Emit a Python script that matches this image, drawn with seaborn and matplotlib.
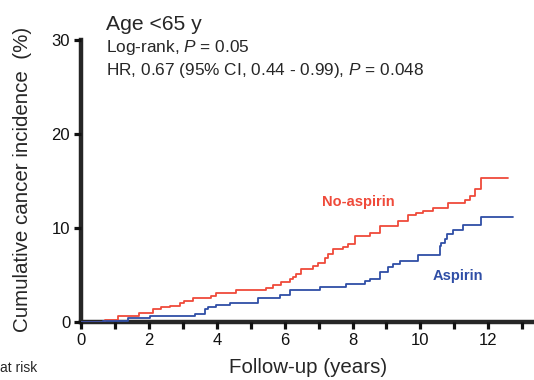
import pandas as pd
import numpy as np
import matplotlib
matplotlib.use("Agg")
import matplotlib.pyplot as plt
import seaborn as sns

# Step times (years) and cumulative incidence (%)
no_aspirin_t = [0, 0.69, 1.08, 1.69, 2.11, 2.36, 2.61, 2.90, 3.03, 3.29, 3.83, 3.98,
                4.57, 5.46, 5.65, 5.90, 6.15, 6.24, 6.34, 6.49, 6.83, 6.98, 7.18,
                7.28, 7.42, 7.72, 7.87, 8.06, 8.51, 8.80, 9.34, 9.64, 9.88, 10.08,
                10.37, 10.82, 11.31, 11.46, 11.60, 11.78, 12.59]
no_aspirin_y = [0, 0.14, 0.57, 0.88, 1.34, 1.59, 1.70, 1.98, 2.23, 2.51, 2.76, 3.07,
                3.36, 3.57, 3.92, 4.17, 4.49, 4.77, 5.05, 5.65, 5.94, 6.29, 6.75,
                7.17, 7.70, 7.95, 8.30, 9.12, 9.47, 10.18, 10.71, 11.31, 11.52, 11.77,
                12.12, 12.65, 12.90, 13.36, 14.06, 15.30, 15.30]

aspirin_t = [0, 0.64, 1.38, 2.02, 3.34, 3.64, 3.74, 3.98, 4.38, 5.21, 5.85, 6.15,
             7.03, 7.82, 8.36, 8.51, 8.80, 9.05, 9.19, 9.39, 9.93, 10.57, 10.62,
             10.72, 10.80, 10.96, 11.26, 11.80, 12.73]
aspirin_y = [0, 0.07, 0.35, 0.57, 0.81, 1.34, 1.52, 1.77, 1.98, 2.51, 2.83, 3.39,
             3.71, 3.99, 4.35, 4.52, 5.30, 5.83, 6.11, 6.47, 7.10, 8.06, 8.41,
             8.76, 9.29, 9.72, 10.25, 11.17, 11.17]

groups = ["No-aspirin", "Aspirin"]
colors = {"No-aspirin": "#EF4A3A", "Aspirin": "#2F4EA6"}

df = pd.concat([
    pd.DataFrame({"time": no_aspirin_t, "inc": no_aspirin_y, "group": "No-aspirin"}),
    pd.DataFrame({"time": aspirin_t, "inc": aspirin_y, "group": "Aspirin"}),
])

sns.set_style("ticks")
plt.rcParams["font.family"] = ["Liberation Sans", "DejaVu Sans"]
plt.rcParams["mathtext.fontset"] = "custom"
plt.rcParams["mathtext.rm"] = "Liberation Sans"
plt.rcParams["mathtext.it"] = "Liberation Sans:italic"

W, H = 534, 380
fig = plt.figure(figsize=(W / 100, H / 100), dpi=100)
ax = fig.add_axes([81.3 / W, (H - 321.7) / H, (W - 81.3) / W, (321.7 - 39.5) / H])

sns.lineplot(data=df, x="time", y="inc", hue="group", hue_order=groups,
             palette=colors, estimator=None, drawstyle="steps-post",
             linewidth=1.3, legend=False, ax=ax, zorder=1)

ax.set_xlim(0, (W - 81.3) / 33.9)
ax.set_ylim(0, 30)
ax.set_xticks(range(0, 14))
ax.set_xticklabels([str(i) if i % 2 == 0 else "" for i in range(0, 14)])
ax.set_yticks([0, 10, 20, 30])
ax.set_xlabel("")
ax.set_ylabel("")
for s in ["top", "right"]:
    ax.spines[s].set_visible(False)
for s in ["left", "bottom"]:
    ax.spines[s].set_linewidth(3.2)
    ax.spines[s].set_zorder(0)
ax.tick_params(axis="both", width=2.3, length=5, labelsize=12, colors="#111111", pad=3)

# curve labels
ax.text(8.16, 12.75, "No-aspirin", color=colors["No-aspirin"], fontsize=10.5,
        fontweight="bold", ha="center", va="center")
ax.text(11.1, 4.9, "Aspirin", color=colors["Aspirin"], fontsize=10.5,
        fontweight="bold", ha="center", va="center")

# header text
fig.text(106.5 / W, 1 - 30 / H, "Age <65 y", fontsize=15.2, va="baseline")
fig.text(106.5 / W, 1 - 51.7 / H, "Log-rank, $P$ = 0.05", fontsize=12.4, va="baseline")
fig.text(106.5 / W, 1 - 75 / H, "HR, 0.67 (95% CI, 0.44 - 0.99), $P$ = 0.048",
         fontsize=12.4, va="baseline")

fig.text(23 / W, 1 - 179 / H, "Cumulative cancer incidence  (%)", fontsize=14.8,
         rotation=90, ha="center", va="center")
fig.text(308 / W, 1 - 373 / H, "Follow-up (years)", fontsize=14.8, ha="center",
         va="baseline")
fig.text(37.5 / W, 1 - 375 / H, "at risk", fontsize=10, ha="right", va="bottom")

fig.savefig("out.png", dpi=100)
